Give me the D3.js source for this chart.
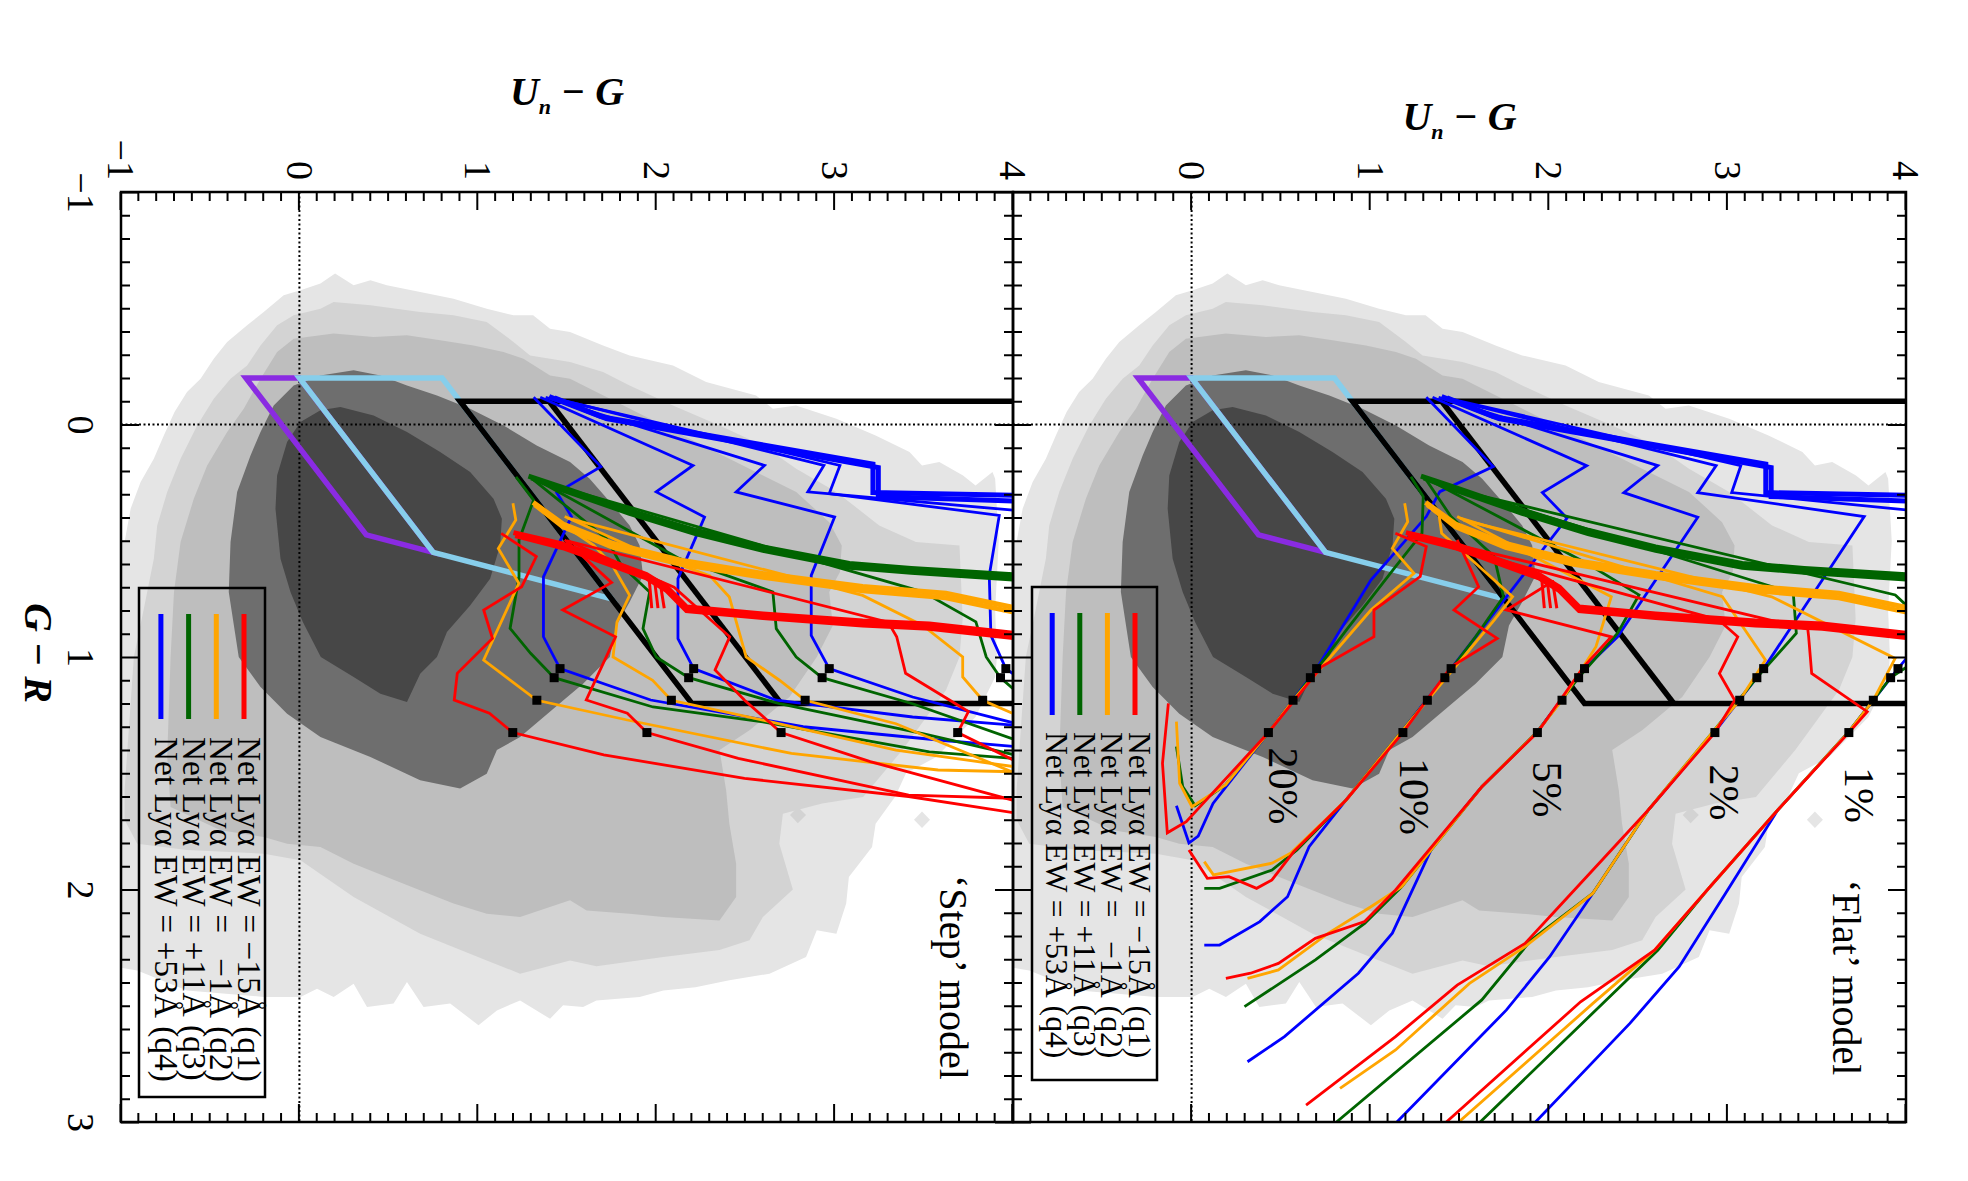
<!DOCTYPE html>
<html><head><meta charset="utf-8">
<script src="https://cdn.jsdelivr.net/npm/d3@7"></script>
<style>body{margin:0;background:#fff}svg{display:block}text{white-space:pre}</style>
</head><body>
<script>
// ---------------- DATA (G-R, Un-G) ----------------
const grTicks=[-1,0,1,2,3];
const ugTicksFlat=[0,1,2,3,4];
const ugTicksStep=[-1,0,1,2,3,4];
const contourColors=["#e5e5e5","#d3d3d3","#bebebe","#6e6e6e","#474747"];
const contourL1=[[2.33,-1.05],[0.505,-1.05],[0.505,-0.98],[0.362,-0.946],[0.247,-0.89],[0.147,-0.816],[0.047,-0.76],[-0.054,-0.70],[-0.14,-0.63],[-0.197,-0.554],[-0.283,-0.48],[-0.355,-0.405],[-0.427,-0.293],[-0.484,-0.20],[-0.556,-0.088],[-0.577,0.006],[-0.606,0.118],[-0.649,0.20],[-0.599,0.304],[-0.62,0.398],[-0.599,0.49],[-0.57,0.677],[-0.541,0.864],[-0.498,1.05],[-0.47,1.20],[-0.47,1.31],[-0.412,1.405],[-0.398,1.517],[-0.34,1.702],[-0.297,1.851],[-0.254,2.094],[-0.183,2.28],[-0.125,2.56],[-0.068,2.654],[-0.082,2.784],[-0.025,3.01],[0.047,3.23],[0.118,3.42],[0.176,3.49],[0.161,3.587],[0.219,3.72],[0.262,3.79],[0.204,3.885],[0.233,3.90],[0.5,3.92],[0.8,3.9],[1.0,3.91],[1.086,3.90],[1.258,3.79],[1.43,3.57],[1.50,3.40],[1.60,3.34],[1.717,3.23],[1.817,3.21],[1.946,3.08],[2.06,3.065],[2.19,3.01],[2.175,2.90],[2.29,2.84],[2.362,2.635],[2.39,2.41],[2.42,2.22],[2.434,2.04],[2.462,1.907],[2.477,1.665],[2.505,1.59],[2.498,1.478],[2.556,1.405],[2.477,1.237],[2.52,1.107],[2.584,1.004],[2.49,0.845],[2.505,0.696],[2.398,0.603],[2.49,0.528],[2.505,0.379],[2.405,0.304],[2.462,0.192],[2.427,0.099],[2.462,0.006],[2.462,-0.20],[2.434,-0.63],[2.348,-0.909]];
const contourL2=[[1.573,-0.98],[1.0,-0.928],[0.792,-0.872],[0.577,-0.816],[0.434,-0.797],[0.29,-0.741],[0.147,-0.666],[0.004,-0.573],[-0.111,-0.48],[-0.197,-0.386],[-0.254,-0.293],[-0.34,-0.218],[-0.427,-0.125],[-0.47,-0.032],[-0.498,0.118],[-0.527,0.192],[-0.513,0.398],[-0.484,0.677],[-0.47,0.864],[-0.441,1.05],[-0.355,1.20],[-0.297,1.293],[-0.269,1.517],[-0.226,1.702],[-0.168,1.851],[-0.082,2.094],[0.004,2.355],[0.09,2.598],[0.19,2.785],[0.29,3.01],[0.434,3.25],[0.505,3.456],[0.52,3.70],[0.835,3.718],[1.0,3.70],[1.143,3.624],[1.40,3.38],[1.602,3.16],[1.63,2.93],[1.674,2.71],[1.803,2.69],[2.0,2.766],[2.118,2.598],[2.218,2.523],[2.26,2.355],[2.29,2.04],[2.33,1.665],[2.305,1.517],[2.362,1.237],[2.305,1.05],[2.19,0.677],[2.032,0.304],[1.874,0.006],[1.846,-0.20],[1.83,-0.63],[1.803,-0.909],[1.70,-0.98]];
const contourL3=[[1.0,-0.722],[0.72,-0.703],[0.505,-0.666],[0.319,-0.592],[0.176,-0.517],[0.032,-0.405],[-0.068,-0.312],[-0.197,-0.218],[-0.312,-0.125],[-0.369,-0.032],[-0.391,0.192],[-0.376,0.416],[-0.384,0.603],[-0.362,0.789],[-0.34,0.976],[-0.312,1.144],[-0.283,1.256],[-0.211,1.405],[-0.197,1.517],[-0.14,1.665],[0.004,2.04],[0.147,2.41],[0.29,2.785],[0.42,2.97],[0.52,3.04],[0.634,3.03],[0.72,2.97],[0.864,2.99],[1.0,2.90],[1.172,2.747],[1.315,2.523],[1.40,2.355],[1.573,2.392],[1.717,2.41],[1.889,2.448],[2.032,2.448],[2.133,2.355],[2.118,2.04],[2.104,1.851],[2.09,1.61],[2.046,1.517],[2.118,1.237],[2.104,1.05],[2.06,0.864],[1.975,0.584],[1.889,0.304],[1.817,0.118],[1.803,-0.069],[1.774,-0.20],[1.745,-0.442],[1.645,-0.722],[1.43,-0.741]];
const contourL4=[[1.0,-0.34],[0.72,-0.396],[0.505,-0.386],[0.29,-0.349],[0.133,-0.274],[0.032,-0.218],[-0.082,-0.144],[-0.168,-0.032],[-0.211,0.118],[-0.233,0.304],[-0.211,0.454],[-0.168,0.603],[-0.125,0.771],[-0.068,0.957],[0.004,1.144],[0.09,1.33],[0.161,1.517],[0.233,1.627],[0.348,1.758],[0.434,1.851],[0.52,1.907],[0.649,1.926],[0.763,1.851],[0.864,1.777],[1.0,1.74],[1.115,1.59],[1.18,1.49],[1.344,1.237],[1.40,1.107],[1.502,1.05],[1.566,0.901],[1.53,0.677],[1.43,0.398],[1.344,0.118],[1.244,-0.069],[1.129,-0.218]];
const contourL5=[[1.0,0.12],[0.85,0.02],[0.72,-0.05],[0.577,-0.106],[0.362,-0.134],[0.219,-0.125],[0.075,-0.069],[-0.011,0.006],[-0.061,0.118],[-0.075,0.23],[-0.039,0.416],[0.032,0.603],[0.118,0.789],[0.204,0.957],[0.319,1.088],[0.405,1.135],[0.52,1.125],[0.663,1.069],[0.778,0.957],[0.892,0.827],[1.0,0.771],[1.072,0.677],[1.194,0.603],[1.158,0.454],[1.086,0.304]];
const islandL2=[[1.645,2.794],[1.68,2.75],[1.715,2.794],[1.68,2.84]];
const islandL1=[[1.665,3.49],[1.70,3.445],[1.735,3.49],[1.70,3.535]];

const bmPoly=[[-0.2,-0.3],[-0.2,0.0],[0.55,0.75],[0.475,0.375]];
const bxPoly=[[-0.2,0.0],[-0.2,0.8],[0.75,1.75],[0.55,0.75]];
const selOuter=[[-0.1,4.2],[-0.1,0.9],[1.2,2.2],[1.2,4.2]];
const selInner=[[-0.1,1.4],[1.2,2.7]];

const bundleBlue=[[[-0.12,1.40],[-0.034,1.69],[0.17,3.215],[0.293,3.215],[0.305,4.02]],[[-0.115,1.43],[-0.025,1.72],[0.185,3.245],[0.31,3.245],[0.33,4.02]]];
const bundleGreen=[[[0.222,1.284],[0.272,1.478],[0.37,1.851],[0.455,2.22],[0.527,2.598],[0.598,3.083],[0.619,3.43],[0.647,4.02]],[[0.23,1.30],[0.282,1.478],[0.382,1.851],[0.469,2.22],[0.541,2.598],[0.614,3.083],[0.635,3.43],[0.665,4.02]]];
const bundleOrange=[[[0.335,1.31],[0.428,1.478],[0.512,1.758],[0.583,2.131],[0.641,2.598],[0.697,3.157],[0.726,3.624],[0.79,4.02]],[[0.345,1.32],[0.44,1.478],[0.528,1.758],[0.6,2.131],[0.657,2.598],[0.715,3.157],[0.745,3.624],[0.81,4.02]]];
const bundleRed=[[[0.465,1.2],[0.515,1.478],[0.645,1.945],[0.70,2.06],[0.785,2.17],[0.815,2.598],[0.845,3.157],[0.858,3.531],[0.9,4.02]],[[0.478,1.21],[0.53,1.478],[0.66,1.945],[0.715,2.06],[0.8,2.17],[0.83,2.598],[0.862,3.157],[0.876,3.531],[0.918,4.02]]];
const redComb=[[[0.66,1.96],[0.79,1.975]],[[0.665,1.99],[0.79,2.01]],[[0.67,2.02],[0.79,2.045]]];

// 'Flat' model tracks (families 20%,10%,5%,2%,1%)
const flatBlue=[
 [[-0.117,1.314],[0.181,1.689],[0.289,1.39],[0.396,1.314],[0.669,1.004],[1.05,0.70],[1.325,0.43],[1.63,0.12],[1.77,0.037],[1.80,-0.015],[1.64,-0.085]],
 [[-0.117,1.349],[0.177,2.212],[0.293,1.964],[0.403,2.102],[0.741,1.763],[1.05,1.453],[1.321,1.176],[1.615,0.865],[1.816,0.658],[2.031,0.537],[2.138,0.382],[2.239,0.157],[2.239,0.071]],
 [[-0.117,1.383],[0.177,2.61],[0.293,2.42],[0.399,2.834],[0.913,2.385],[1.05,2.20],[1.321,1.936],[1.558,1.625],[1.816,1.349],[2.188,1.124],[2.36,0.934],[2.633,0.52],[2.741,0.313]],
 [[-0.117,1.40],[0.177,2.937],[0.293,2.834],[0.396,3.766],[1.05,3.203],[1.321,2.93],[1.658,2.557],[2.017,2.246],[2.289,2.005],[2.518,1.763],[3.006,1.142]],
 [[-0.117,1.41],[0.177,3.075],[0.293,3.024],[0.368,4.01],[0.6,4.3],[0.95,4.3],[0.999,4.01],[1.05,3.955],[1.321,3.68],[1.658,3.282],[2.017,2.989],[2.332,2.73],[2.576,2.454],[3.006,1.918]]];
const flatGreen=[
 [[0.225,1.228],[0.31,1.297],[0.468,1.29],[0.611,1.142],[0.884,0.866],[1.089,0.665],[1.325,0.43],[1.55,0.19],[1.64,0.02],[1.557,-0.05],[1.385,-0.085]],
 [[0.239,1.314],[0.396,1.452],[0.568,1.694],[0.741,1.746],[0.913,1.59],[1.089,1.418],[1.321,1.176],[1.615,0.865],[1.83,0.59],[1.916,0.45],[1.995,0.157],[1.995,0.071]],
 [[0.246,1.349],[0.597,2.212],[0.733,2.505],[0.898,2.385],[1.089,2.167],[1.321,1.936],[1.558,1.625],[1.988,1.176],[2.146,0.969],[2.303,0.693],[2.504,0.296]],
 [[0.267,1.452],[0.726,3.369],[0.898,3.386],[1.089,3.165],[1.321,2.92],[1.658,2.557],[2.017,2.246],[2.217,1.901],[2.475,1.625],[2.999,0.813]],
 [[0.282,1.487],[0.733,3.94],[0.798,4.03],[1.03,4.03],[1.089,3.914],[1.321,3.68],[1.658,3.282],[1.988,2.903],[2.261,2.61],[3.006,1.608]]];
const flatOrange=[
 [[0.339,1.193],[0.418,1.21],[0.533,1.124],[0.64,1.245],[0.798,1.004],[1.186,0.568],[1.325,0.43],[1.55,0.19],[1.644,0.002],[1.543,-0.067],[1.278,-0.085]],
 [[0.382,1.384],[0.468,1.40],[0.597,1.59],[0.741,1.797],[0.841,1.694],[1.186,1.32],[1.321,1.176],[1.615,0.865],[1.844,0.554],[1.887,0.45],[1.937,0.122],[1.88,0.071]],
 [[0.396,1.487],[0.741,2.35],[0.956,2.264],[1.186,2.074],[1.321,1.936],[1.558,1.625],[1.988,1.176],[2.074,1.004],[2.19,0.762],[2.346,0.486],[2.382,0.313]],
 [[0.403,1.504],[0.741,2.972],[1.013,3.213],[1.186,3.069],[1.321,2.92],[1.658,2.557],[2.017,2.246],[2.246,1.867],[2.404,1.556],[2.69,1.142],[2.855,0.831]],
 [[0.411,1.522],[0.741,3.248],[1.006,3.939],[1.186,3.817],[1.321,3.68],[1.658,3.282],[1.988,2.903],[2.261,2.592],[2.49,2.247],[3.006,1.487]]];
const flatRed=[
 [[0.468,1.141],[0.525,1.314],[0.654,1.28],[0.798,1.021],[0.913,1.021],[1.042,0.727],[1.325,0.43],[1.708,-0.03],[1.756,-0.136],[1.457,-0.163],[1.199,-0.13]],
 [[0.496,1.487],[0.698,1.607],[0.798,1.469],[0.92,1.711],[1.042,1.453],[1.325,1.183],[1.615,0.865],[1.837,0.572],[1.959,0.45],[1.995,0.364],[1.945,0.209],[1.952,0.088],[1.83,-0.015]],
 [[0.47,1.21],[0.6,1.75],[0.683,2.005],[0.798,1.763],[0.913,2.35],[1.042,2.195],[1.325,1.936],[1.558,1.625],[2.002,1.142],[2.138,0.969],[2.21,0.693],[2.318,0.486],[2.36,0.33],[2.382,0.192]],
 [[0.47,1.22],[0.62,1.9],[0.84,2.95],[0.913,3.058],[1.071,2.955],[1.186,3.041],[1.325,2.93],[1.658,2.557],[2.088,2.04],[2.232,1.867],[2.411,1.487],[2.633,1.142],[2.927,0.641]],
 [[0.47,1.23],[0.65,2.2],[0.88,3.45],[0.913,3.455],[1.071,3.472],[1.235,3.783],[1.325,3.68],[1.658,3.282],[1.988,2.903],[2.261,2.592],[2.483,2.178],[3.006,1.418]]];

// 'Step' model tracks
const stepBlue=[
 [[-0.117,1.313],[0.181,1.69],[0.293,1.443],[0.396,1.525],[0.655,1.368],[0.913,1.368],[1.05,1.461],[1.185,1.969],[1.30,2.824],[1.357,3.58],[1.386,4.02]],
 [[-0.117,1.35],[0.176,2.206],[0.29,2.0],[0.398,2.271],[0.663,2.122],[0.921,2.122],[1.05,2.21],[1.186,2.673],[1.258,3.437],[1.294,4.02]],
 [[-0.117,1.38],[0.176,2.607],[0.29,2.448],[0.398,3.0],[0.649,2.869],[0.907,2.869],[1.05,2.97],[1.172,3.437],[1.287,4.02]],
 [[-0.117,1.40],[0.176,3.03],[0.297,2.97],[0.391,3.923],[0.649,3.867],[0.907,3.876],[1.05,3.96],[1.10,4.05]],
 [[-0.117,1.41],[0.176,2.94],[0.29,2.85],[0.37,4.02]]];
const stepGreen=[
 [[0.225,1.214],[0.325,1.313],[0.497,1.231],[0.655,1.231],[0.877,1.181],[0.984,1.296],[1.089,1.428],[1.215,1.982],[1.279,2.598],[1.408,3.531],[1.437,4.02]],
 [[0.239,1.314],[0.491,1.721],[0.606,1.805],[0.72,1.963],[0.878,1.926],[1.0,2.0],[1.089,2.182],[1.201,2.691],[1.33,3.494],[1.423,4.02]],
 [[0.246,1.349],[0.577,2.131],[0.72,2.654],[0.878,2.673],[1.0,2.785],[1.089,2.93],[1.201,3.437],[1.358,4.02]],
 [[0.267,1.452],[0.72,3.494],[0.849,3.792],[1.0,3.85],[1.089,3.93],[1.15,4.02]]];
const stepOrange=[
 [[0.339,1.197],[0.411,1.213],[0.533,1.115],[0.683,1.23],[1.013,1.033],[1.186,1.331],[1.271,1.838],[1.415,2.758],[1.486,3.58],[1.494,4.02]],
 [[0.382,1.384],[0.52,1.65],[0.6,1.75],[0.735,1.851],[0.85,1.78],[1.0,1.758],[1.1,1.98],[1.186,2.085],[1.272,2.598],[1.401,3.344],[1.473,4.02]],
 [[0.396,1.487],[0.54,1.9],[0.65,2.3],[0.742,2.41],[1.0,2.504],[1.1,2.691],[1.186,2.835],[1.287,3.344],[1.502,4.02]],
 [[0.403,1.504],[0.735,3.157],[0.864,3.494],[1.0,3.718],[1.086,3.718],[1.186,3.83],[1.25,4.02]]];
const stepRed=[
 [[0.468,1.131],[0.568,1.328],[0.698,1.246],[0.798,1.033],[0.92,1.082],[1.07,0.885],[1.185,0.868],[1.242,1.065],[1.325,1.196],[1.421,1.706],[1.522,2.495],[1.6,3.415],[1.672,4.02]],
 [[0.496,1.487],[0.68,1.75],[0.798,1.476],[0.913,1.772],[1.185,1.608],[1.242,1.838],[1.325,1.948],[1.436,2.46],[1.594,3.415],[1.608,4.02]],
 [[0.5,1.5],[0.7,2.1],[0.913,2.412],[1.056,2.33],[1.185,2.494],[1.325,2.70],[1.45,3.2],[1.62,4.02]],
 [[0.5,1.5],[0.85,3.3],[0.913,3.348],[1.07,3.398],[1.235,3.75],[1.325,3.69],[1.45,4.02]]];

const squareGR=[1.05,1.089,1.186,1.325];   // blue, green, orange, red
const flatSquaresUG=[[0.70,0.665,0.568,0.43],[1.453,1.418,1.32,1.183],[2.20,2.167,2.074,1.936],[3.203,3.165,3.069,2.93],[3.955,3.914,3.817,3.68]];
const stepSquaresUG=[[1.461,1.428,1.331,1.196],[2.21,2.182,2.085,1.948],[2.97,2.93,2.835,2.70],[3.96,3.93,3.83,3.69]];

const pctLabels=["20%","10%","5%","2%","1%"];
const pctGR=[1.555,1.60,1.57,1.583,1.594];
const pctUG=[0.434,1.169,1.909,2.90,3.66];

const legendLabels=["Net Lyα EW = −15Å (q1)","Net Lyα EW =   −1Å (q2)","Net Lyα EW = +11Å (q3)","Net Lyα EW = +53Å (q4)"];

// ---------------- DRAW ----------------
const W=1968,H=1181;
const COL={blue:"#0000ff",green:"#006400",orange:"#ffa500",red:"#ff0000",purple:"#8a2be2",sky:"#87ceeb"};
const legendColors=[COL.red,COL.orange,COL.green,COL.blue];
const SERIF="'Liberation Serif','Times New Roman',Times,serif";
const svg=d3.select("body").append("svg").attr("width",W).attr("height",H);
const root=svg.append("g").attr("transform",`translate(${W},0) rotate(90)`);
const x=d3.scaleLinear().domain([-1,3]).range([192,1122]);

function drawPanel(id,ys,opt){
  const g=root.append("g");
  const clipId="clip-"+id;
  root.append("clipPath").attr("id",clipId).append("rect")
    .attr("x",x(-1)).attr("y",ys(4)).attr("width",x(3)-x(-1)).attr("height",ys(-1)-ys(4));
  const dg=g.append("g").attr("clip-path",`url(#${clipId})`);
  const ln=d3.line().x(d=>x(d[0])).y(d=>ys(d[1]));
  [contourL1,contourL2,contourL3,contourL4,contourL5].forEach((c,i)=>
    dg.append("path").attr("d",ln(c)+"Z").attr("fill",contourColors[i]));
  dg.append("path").attr("d",ln(islandL2)+"Z").attr("fill",contourColors[1]);
  dg.append("path").attr("d",ln(islandL1)+"Z").attr("fill",contourColors[0]);
  // dotted zero lines
  dg.append("path").attr("d",ln([[0,-1],[0,4]])).attr("stroke","#000").attr("stroke-width",2).attr("stroke-dasharray","2,2.5").attr("fill","none");
  dg.append("path").attr("d",ln([[-1,0],[3,0]])).attr("stroke","#000").attr("stroke-width",2).attr("stroke-dasharray","2,2.5").attr("fill","none");
  // BM / BX
  dg.append("path").attr("d",ln(bmPoly)+"Z").attr("fill","none").attr("stroke",COL.purple).attr("stroke-width",5.5);
  dg.append("path").attr("d",ln(bxPoly)+"Z").attr("fill","none").attr("stroke",COL.sky).attr("stroke-width",5.5);
  // LBG selection
  dg.append("path").attr("d",ln(selOuter)).attr("fill","none").attr("stroke","#000").attr("stroke-width",5.5);
  dg.append("path").attr("d",ln(selInner)).attr("fill","none").attr("stroke","#000").attr("stroke-width",5.5);
  // tracks
  const groups=[[bundleBlue,opt.blue,COL.blue],[bundleGreen,opt.green,COL.green],[bundleOrange,opt.orange,COL.orange],[bundleRed,opt.red,COL.red]];
  groups.forEach(([bund,thin,c])=>{
    bund.forEach(p=>dg.append("path").attr("d",ln(p)).attr("fill","none").attr("stroke",c).attr("stroke-width",5).attr("stroke-linejoin","miter"));
    if(c===COL.red) redComb.forEach(p=>dg.append("path").attr("d",ln(p)).attr("fill","none").attr("stroke",c).attr("stroke-width",3));
    thin.forEach(p=>dg.append("path").attr("d",ln(p)).attr("fill","none").attr("stroke",c).attr("stroke-width",2.8).attr("stroke-linejoin","miter"));
  });
  // squares
  opt.squares.forEach(fam=>fam.forEach((ug,i)=>{
    dg.append("rect").attr("x",x(squareGR[i])-4.5).attr("y",ys(ug)-4.5).attr("width",9).attr("height",9).attr("fill","#000");
  }));
  // percent labels
  if(opt.pct){
    pctLabels.forEach((t,i)=>g.append("text").attr("x",x(pctGR[i])).attr("y",ys(pctUG[i]))
      .attr("text-anchor","middle").attr("font-family",SERIF).attr("font-size",42).text(t));
  }
  // model label
  g.append("text").attr("x",x(2.378)).attr("y",ys(3.59)).attr("text-anchor","middle")
    .attr("font-family",SERIF).attr("font-size",40).text(opt.model);
  // legend
  const yb=ys(-1), L=opt.legend;
  g.append("rect").attr("x",L.x0).attr("y",yb-144).attr("width",L.x1-L.x0).attr("height",144-L.bot)
    .attr("fill","none").attr("stroke","#000").attr("stroke-width",2.5);
  legendLabels.forEach((t,i)=>{
    const ry=yb-L.first+i*L.step;
    g.append("line").attr("x1",L.s0).attr("x2",L.s1).attr("y1",ry).attr("y2",ry).attr("stroke",legendColors[i]).attr("stroke-width",5);
    g.append("text").attr("x",L.tx).attr("y",ry+6).attr("font-family",SERIF).attr("font-size",L.fs).text(t);
  });
  // axes & frame
  const minorUG=d3.range(-1,4.001,0.1).filter(v=>Math.abs(v-Math.round(v))>1e-6);
  const minorGR=d3.range(-1,3.001,0.1).filter(v=>Math.abs(v-Math.round(v))>1e-6);
  const styleAx=s=>{s.select(".domain").remove();s.selectAll("line").attr("stroke","#000").attr("stroke-width",2);
    s.selectAll("text").attr("font-family",SERIF).attr("font-size",38).attr("fill","#000");};
  g.append("g").attr("transform",`translate(${x(-1)},0)`).call(d3.axisLeft(ys).tickValues(opt.ugTicks).tickSize(-18).tickPadding(12).tickFormat(d3.format("d"))).call(styleAx);
  g.append("g").attr("transform",`translate(${x(-1)},0)`).call(d3.axisLeft(ys).tickValues(minorUG).tickSize(-9).tickFormat("")).call(styleAx);
  g.append("g").attr("transform",`translate(${x(3)},0)`).call(d3.axisRight(ys).tickValues([-1,0,1,2,3,4]).tickSize(-18).tickFormat("")).call(styleAx);
  g.append("g").attr("transform",`translate(${x(3)},0)`).call(d3.axisRight(ys).tickValues(minorUG).tickSize(-9).tickFormat("")).call(styleAx);
  g.append("g").attr("transform",`translate(0,${ys(4)})`).call(d3.axisTop(x).tickValues(grTicks).tickSize(-18).tickFormat("")).call(styleAx);
  g.append("g").attr("transform",`translate(0,${ys(4)})`).call(d3.axisTop(x).tickValues(minorGR).tickSize(-9).tickFormat("")).call(styleAx);
  const bax=d3.axisBottom(x).tickValues(grTicks).tickSize(-18).tickPadding(26);
  if(!opt.xlabels) bax.tickFormat("");
  else bax.tickFormat(d3.format("d"));
  g.append("g").attr("transform",`translate(0,${ys(-1)})`).call(bax).call(styleAx);
  g.append("g").attr("transform",`translate(0,${ys(-1)})`).call(d3.axisBottom(x).tickValues(minorGR).tickSize(-9).tickFormat("")).call(styleAx);
  g.append("rect").attr("x",x(-1)).attr("y",ys(4)).attr("width",x(3)-x(-1)).attr("height",ys(-1)-ys(4))
    .attr("fill","none").attr("stroke","#000").attr("stroke-width",2.5);
  // y title
  const t=g.append("text").attr("transform",`translate(${opt.titleX},${(ys(-1)+ys(4))/2}) rotate(-90)`)
    .attr("text-anchor","middle").attr("font-family",SERIF).attr("font-weight","bold").attr("font-style","italic").attr("font-size",40);
  t.append("tspan").text("U");
  t.append("tspan").attr("font-size",22).attr("dy",9).text("n");
  t.append("tspan").attr("dy",-9).text(" − G");
}

const yFlat=d3.scaleLinear().domain([-1,4]).range([955,62]);
const yStep=d3.scaleLinear().domain([-1,4]).range([1847,955]);

drawPanel("flat",yFlat,{blue:flatBlue,green:flatGreen,orange:flatOrange,red:flatRed,squares:flatSquaresUG,pct:true,
  model:"‘Flat’ model",ugTicks:ugTicksFlat,xlabels:false,titleX:130,
  legend:{x0:587,x1:1080,bot:19,first:122,step:27.6,s0:613,s1:715,tx:732,fs:31.6}});
drawPanel("step",yStep,{blue:stepBlue,green:stepGreen,orange:stepOrange,red:stepRed,squares:stepSquaresUG,pct:false,
  model:"‘Step’ model",ugTicks:ugTicksStep,xlabels:true,titleX:105,
  legend:{x0:588,x1:1097,bot:18,first:123,step:27.7,s0:614,s1:719,tx:737,fs:33.4}});

// x title
root.append("text").attr("x",653).attr("y",1943).attr("text-anchor","middle").attr("font-family",SERIF)
  .attr("font-weight","bold").attr("font-style","italic").attr("font-size",40).text("G − R");
</script>
</body></html>
